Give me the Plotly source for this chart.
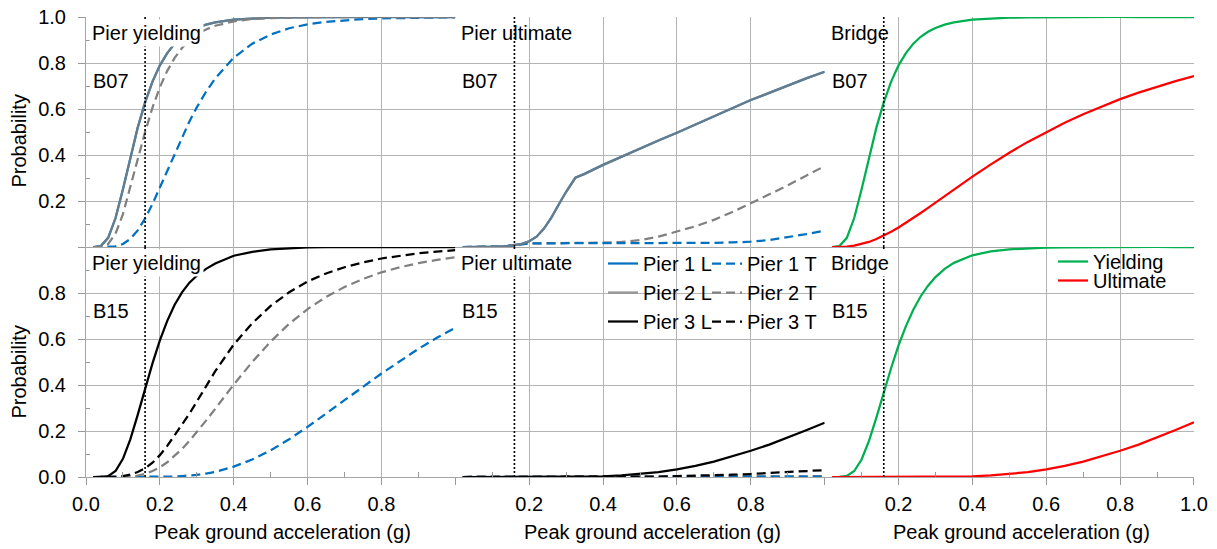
import plotly.graph_objects as go
from plotly.subplots import make_subplots

# ---------------- data ----------------
pga = [0.02, 0.04, 0.06, 0.08, 0.10, 0.12, 0.14, 0.16, 0.18, 0.20, 0.22, 0.24, 0.26, 0.28, 0.30,
       0.325, 0.35, 0.40, 0.45, 0.50, 0.55, 0.60, 0.65, 0.70, 0.75, 0.80, 0.85, 0.90, 0.95, 1.00]

# B07 - pier yielding
b07_yield_p1L = [0.000, 0.004, 0.040, 0.126, 0.251, 0.389, 0.519, 0.629, 0.719, 0.790, 0.843, 0.884, 0.914, 0.936, 0.952,
                 0.967, 0.977, 0.989, 0.994, 0.997, 0.998, 0.999, 1.000, 1.000, 1.000, 1.000, 1.000, 1.000, 1.000, 1.000]
b07_yield_p2L = [0.000, 0.004, 0.040, 0.126, 0.251, 0.389, 0.519, 0.629, 0.719, 0.790, 0.843, 0.884, 0.914, 0.936, 0.952,
                 0.967, 0.977, 0.989, 0.994, 0.997, 0.998, 0.999, 1.000, 1.000, 1.000, 1.000, 1.000, 1.000, 1.000, 1.000]
b07_yield_p1T = [0.000, 0.000, 0.000, 0.003, 0.013, 0.035, 0.072, 0.124, 0.187, 0.259, 0.333, 0.407, 0.479, 0.546, 0.607,
                 0.675, 0.733, 0.823, 0.884, 0.924, 0.951, 0.968, 0.979, 0.986, 0.991, 0.994, 0.996, 0.997, 0.998, 0.999]
b07_yield_p2T = [0.000, 0.001, 0.013, 0.058, 0.143, 0.257, 0.381, 0.500, 0.606, 0.695, 0.766, 0.822, 0.865, 0.899, 0.924,
                 0.946, 0.962, 0.981, 0.991, 0.995, 0.998, 0.999, 1.000, 1.000, 1.000, 1.000, 1.000, 1.000, 1.000, 1.000]
# B07 - pier ultimate
b07_ult_p1L = [0.000, 0.000, 0.000, 0.0005, 0.001, 0.002, 0.004, 0.008, 0.014, 0.025, 0.045, 0.080, 0.128, 0.185, 0.240,
               0.301, 0.318, 0.357, 0.393, 0.428, 0.463, 0.497, 0.533, 0.568, 0.604, 0.639, 0.670, 0.703, 0.733, 0.762]
b07_ult_p2L = [0.000, 0.000, 0.000, 0.0005, 0.001, 0.002, 0.004, 0.008, 0.014, 0.025, 0.045, 0.080, 0.128, 0.185, 0.240,
               0.301, 0.318, 0.357, 0.393, 0.428, 0.463, 0.497, 0.533, 0.568, 0.604, 0.639, 0.670, 0.703, 0.733, 0.762]
b07_ult_p1T = [0.000, 0.000, 0.000, 0.000, 0.001, 0.002, 0.004, 0.008, 0.013, 0.016, 0.016, 0.016, 0.016, 0.016, 0.016,
               0.016, 0.016, 0.016, 0.016, 0.016, 0.016, 0.016, 0.017, 0.018, 0.020, 0.023, 0.030, 0.042, 0.056, 0.071]
b07_ult_p2T = [0.000, 0.000, 0.000, 0.000, 0.001, 0.002, 0.004, 0.008, 0.013, 0.016, 0.016, 0.016, 0.016, 0.017, 0.017,
               0.017, 0.017, 0.019, 0.022, 0.030, 0.045, 0.066, 0.090, 0.118, 0.152, 0.190, 0.228, 0.268, 0.310, 0.352]
# B07 - bridge
b07_bridge_yield = [0.000, 0.004, 0.040, 0.126, 0.251, 0.389, 0.519, 0.629, 0.719, 0.790, 0.843, 0.884, 0.914, 0.936, 0.952,
                    0.967, 0.977, 0.989, 0.994, 0.997, 0.998, 0.999, 1.000, 1.000, 1.000, 1.000, 1.000, 1.000, 1.000, 1.000]
b07_bridge_ult = [0.000, 0.0004, 0.002, 0.006, 0.013, 0.022, 0.035, 0.049, 0.066, 0.085, 0.105, 0.126, 0.148, 0.170, 0.193,
                  0.222, 0.250, 0.306, 0.359, 0.410, 0.457, 0.500, 0.540, 0.577, 0.611, 0.643, 0.671, 0.697, 0.721, 0.743]

# B15 - pier yielding
b15_yield_p1T = [0.000, 0.000, 0.000, 0.000, 0.000, 0.000, 0.000, 0.0001, 0.0002, 0.0005, 0.001, 0.002, 0.004, 0.006, 0.009,
                 0.015, 0.022, 0.045, 0.076, 0.116, 0.164, 0.218, 0.275, 0.334, 0.392, 0.450, 0.504, 0.557, 0.605, 0.649]
b15_yield_p2T = [0.000, 0.000, 0.000, 0.0001, 0.0007, 0.0025, 0.0065, 0.014, 0.026, 0.042, 0.064, 0.091, 0.122, 0.157, 0.194,
                 0.245, 0.297, 0.402, 0.500, 0.589, 0.666, 0.730, 0.783, 0.826, 0.861, 0.890, 0.912, 0.930, 0.944, 0.955]
b15_yield_p3L = [0.000, 0.0002, 0.004, 0.026, 0.079, 0.164, 0.270, 0.384, 0.494, 0.594, 0.679, 0.749, 0.803, 0.845, 0.875,
                 0.905, 0.928, 0.962, 0.979, 0.990, 0.995, 0.998, 0.999, 1.000, 1.000, 1.000, 1.000, 1.000, 1.000, 1.000]
b15_yield_p3T = [0.000, 0.000, 0.0001, 0.0008, 0.0035, 0.010, 0.022, 0.038, 0.062, 0.095, 0.135, 0.180, 0.225, 0.275, 0.328,
                 0.395, 0.460, 0.576, 0.668, 0.744, 0.803, 0.850, 0.885, 0.912, 0.933, 0.950, 0.963, 0.973, 0.980, 0.986]
# B15 - pier ultimate
b15_ult_p1T = [0.000, 0.000, 0.000, 0.000, 0.000, 0.000, 0.000, 0.000, 0.000, 0.000, 0.000, 0.000, 0.000, 0.000, 0.000,
               0.000, 0.000, 0.000, 0.000, 0.000, 0.000, 0.000, 0.000, 0.000, 0.000, 0.0005, 0.0007, 0.001, 0.0015, 0.002]
b15_ult_p2T = [0.000, 0.000, 0.000, 0.000, 0.000, 0.000, 0.000, 0.000, 0.000, 0.000, 0.000, 0.000, 0.000, 0.000, 0.000,
               0.000, 0.000, 0.000, 0.000, 0.000, 0.000, 0.000, 0.0003, 0.0005, 0.0008, 0.001, 0.0015, 0.002, 0.003, 0.004]
b15_ult_p3L = [0.000, 0.000, 0.000, 0.000, 0.000, 0.000, 0.000, 0.000, 0.000, 0.000, 0.000, 0.0001, 0.0001, 0.0002, 0.0004,
               0.0007, 0.0013, 0.003, 0.007, 0.013, 0.021, 0.033, 0.048, 0.067, 0.089, 0.114, 0.141, 0.171, 0.203, 0.236]
b15_ult_p3T = [0.000, 0.000, 0.000, 0.000, 0.000, 0.000, 0.000, 0.000, 0.000, 0.000, 0.000, 0.000, 0.000, 0.000, 0.000,
               0.000, 0.000, 0.000, 0.0005, 0.001, 0.002, 0.004, 0.005, 0.007, 0.010, 0.013, 0.017, 0.021, 0.025, 0.030]
# B15 - bridge
b15_bridge_yield = [0.000, 0.0002, 0.0044, 0.026, 0.076, 0.157, 0.258, 0.367, 0.474, 0.572, 0.656, 0.727, 0.786, 0.832, 0.869,
                    0.905, 0.931, 0.964, 0.981, 0.990, 0.994, 0.997, 0.998, 0.999, 1.000, 1.000, 1.000, 1.000, 1.000, 1.000]
b15_bridge_ult = [0.000, 0.000, 0.000, 0.000, 0.000, 0.000, 0.000, 0.000, 0.000, 0.000, 0.000, 0.0001, 0.0001, 0.0002, 0.0004,
                  0.0007, 0.0013, 0.003, 0.007, 0.013, 0.021, 0.033, 0.048, 0.067, 0.089, 0.114, 0.141, 0.172, 0.204, 0.238]

design_pga = 0.16
panel_titles = ["Pier yielding", "Pier ultimate", "Bridge"]
bridge_names = ["B07", "B15"]
x_tick_vals = [0.0, 0.2, 0.4, 0.6, 0.8, 1.0]
x_tick_text = [["0.0", "0.2", "0.4", "0.6", "0.8", ""],
               ["", "0.2", "0.4", "0.6", "0.8", ""],
               ["", "0.2", "0.4", "0.6", "0.8", "1.0"]]
y_tick_vals = [0.0, 0.2, 0.4, 0.6, 0.8, 1.0]
y_tick_text = [["", "0.2", "0.4", "0.6", "0.8", "1.0"],
               ["0.0", "0.2", "0.4", "0.6", "0.8", ""]]
x_title = "Peak ground acceleration (g)"
y_title = "Probability"

# ---------------- style ----------------
BLUE = "#0070C0"
GREY = "#808080"
GREY_T = "rgba(128,128,128,0.8)"
BLACK = "#000000"
GREEN = "#00B050"
RED = "#FF0000"
DASH = "9px,5px"
LW = 2.25
FONT = "Liberation Sans, Arial, Helvetica, sans-serif"
GRID = "#b4b4b4"

L, R, T, B = 86, 1194, 17, 477
W, H = R - L, B - T


def PX(px):
    return (px - L) / W


def PY(py):
    return (B - py) / H


fig = make_subplots(rows=2, cols=3, horizontal_spacing=0, vertical_spacing=0)


def add(y, row, col, color, dash, name=None, legend=None):
    fig.add_trace(go.Scatter(x=pga, y=y, mode="lines",
                             line=dict(color=color, width=LW, dash=dash),
                             name=name, showlegend=name is not None,
                             legend=legend, cliponaxis=False, hoverinfo="skip"),
                  row=row, col=col)


# top row: B07
add(b07_yield_p1L, 1, 1, BLUE, "solid", "Pier 1 L", "legend")
add(b07_yield_p1T, 1, 1, BLUE, DASH, "Pier 1 T", "legend2")
add(b07_yield_p2L, 1, 1, GREY_T, "solid", "Pier 2 L", "legend")
add(b07_yield_p2T, 1, 1, GREY, DASH, "Pier 2 T", "legend2")

add(b07_ult_p1L, 1, 2, BLUE, "solid")
add(b07_ult_p2T, 1, 2, GREY, DASH)
add(b07_ult_p1T, 1, 2, BLUE, DASH)
add(b07_ult_p2L, 1, 2, GREY_T, "solid")

add(b07_bridge_yield, 1, 3, GREEN, "solid", "Yielding", "legend3")
add(b07_bridge_ult, 1, 3, RED, "solid", "Ultimate", "legend4")

# bottom row: B15
add(b15_yield_p1T, 2, 1, BLUE, DASH)
add(b15_yield_p2T, 2, 1, GREY, DASH)
add(b15_yield_p3L, 2, 1, BLACK, "solid", "Pier 3 L", "legend")
add(b15_yield_p3T, 2, 1, BLACK, DASH, "Pier 3 T", "legend2")

add(b15_ult_p2T, 2, 2, GREY, DASH)
add(b15_ult_p1T, 2, 2, BLUE, DASH)
add(b15_ult_p3L, 2, 2, BLACK, "solid")
add(b15_ult_p3T, 2, 2, BLACK, DASH)

add(b15_bridge_yield, 2, 3, GREEN, "solid")
add(b15_bridge_ult, 2, 3, RED, "solid")

# ---------------- axes ----------------
for r in (1, 2):
    for c in (1, 2, 3):
        bottom = r == 2
        xa = dict(range=[0, 1], tickmode="array", tickvals=x_tick_vals, automargin=False,
                  showgrid=True, gridcolor=GRID, gridwidth=1, zeroline=False,
                  tickfont=dict(size=20, color="black", family=FONT))
        if bottom:
            xa.update(ticktext=x_tick_text[c - 1], showticklabels=True,
                      ticks="outside", ticklen=7, tickcolor="#999999",
                      showline=True, linecolor="#a6a6a6", linewidth=1,
                      ticklabelstandoff=2,
                      minor=dict(tickvals=[0.1, 0.3, 0.5, 0.7, 0.9], ticks="inside",
                                 ticklen=5, tickcolor="#999999", showgrid=False))
        else:
            xa.update(showticklabels=False, ticks="", showline=True,
                      linecolor="#a6a6a6", linewidth=1)
        fig.update_xaxes(row=r, col=c, **xa)

        ya = dict(range=[0, 1], tickmode="array", tickvals=y_tick_vals, automargin=False,
                  showgrid=True, gridcolor=GRID, gridwidth=1, zeroline=False,
                  tickfont=dict(size=20, color="black", family=FONT))
        if c == 1:
            ya.update(ticktext=y_tick_text[r - 1], showticklabels=True,
                      ticks="outside", ticklen=7, tickcolor="#999999",
                      showline=True, linecolor="#a6a6a6", linewidth=1,
                      ticklabelstandoff=8,
                      minor=dict(tickvals=[0.1, 0.3, 0.5, 0.7, 0.9], ticks="inside",
                                 ticklen=4, tickcolor="#999999", showgrid=False))
        else:
            ya.update(showticklabels=False, ticks="")
        fig.update_yaxes(row=r, col=c, **ya)

# ---------------- shapes ----------------
shapes = []
# white boxes behind legends / middle-top label (below traces, above grid)
shapes.append(dict(type="rect", xref="x5", yref="y5", x0=0.425, x1=0.988, y0=0.648, y1=0.996,
                   fillcolor="white", line=dict(width=0), layer="below"))
shapes.append(dict(type="rect", xref="x6", yref="y6", x0=0.655, x1=0.935, y0=0.812, y1=0.992,
                   fillcolor="white", line=dict(width=0), layer="below"))
shapes.append(dict(type="rect", xref="x2", yref="y2", x0=0.01, x1=0.33, y0=0.87, y1=0.995,
                   fillcolor="white", line=dict(width=0), layer="below"))
for i in range(1, 7):
    sfx = "" if i == 1 else str(i)
    shapes.append(dict(type="line", xref="x" + sfx, yref="y" + sfx + " domain",
                       x0=design_pga, x1=design_pga, y0=0, y1=1,
                       line=dict(color="black", width=1.6, dash="2px,2px"), layer="above"))
fig.update_layout(shapes=shapes)

# ---------------- annotations ----------------
ann = []
col_left = [L, L + W / 3, L + 2 * W / 3]
for r in (1, 2):
    top = T if r == 1 else T + H / 2
    for c in (1, 2, 3):
        bg = "white"
        if r == 1 and c in (2, 3):
            bg = "rgba(0,0,0,0)"
        ann.append(dict(text=panel_titles[c - 1], xref="paper", yref="paper",
                        x=PX(col_left[c - 1] + 3), y=PY(top + 16), xanchor="left", yanchor="middle",
                        showarrow=False, bgcolor=bg, borderpad=2,
                        font=dict(size=20, color="black", family=FONT)))
        ann.append(dict(text=bridge_names[r - 1], xref="paper", yref="paper",
                        x=PX(col_left[c - 1] + 5), y=PY(top + 64), xanchor="left", yanchor="middle",
                        showarrow=False, font=dict(size=20, color="black", family=FONT)))
for cx in (282, 652, 1021):
    ann.append(dict(text=x_title, xref="paper", yref="paper", x=PX(cx), y=PY(532),
                    xanchor="center", yanchor="middle", showarrow=False,
                    font=dict(size=20, color="black", family=FONT)))
for cy in (141, 372):
    ann.append(dict(text=y_title, xref="paper", yref="paper", x=PX(18.5), y=PY(cy),
                    xanchor="center", yanchor="middle", textangle=-90, showarrow=False,
                    font=dict(size=20, color="black", family=FONT)))
fig.update_layout(annotations=ann)

# ---------------- legends ----------------
leg_common = dict(xanchor="left", yanchor="top", bgcolor="rgba(0,0,0,0)", borderwidth=0,
                  font=dict(size=20, color="black", family=FONT), itemwidth=30,
                  tracegroupgap=0, orientation="v")
fig.update_layout(
    legend=dict(x=PX(603), y=PY(244), **leg_common),
    legend2=dict(x=PX(707), y=PY(244), **leg_common),
    legend3=dict(x=PX(1053), y=PY(242), **leg_common),
    legend4=dict(x=PX(1053), y=PY(261), **leg_common),
)

fig.update_layout(
    width=1217, height=549, autosize=False,
    margin=dict(l=L, r=1217 - R, t=T, b=549 - B, autoexpand=False),
    paper_bgcolor="white", plot_bgcolor="white",
    font=dict(family=FONT, size=20, color="black"),
    hovermode=False,
)

fig.write_html("out.html",
               config={"displayModeBar": False, "staticPlot": True},
               post_script="document.body.style.margin='0';document.body.style.padding='0';"
                           "document.documentElement.style.overflow='hidden';document.body.style.overflow='hidden';")
